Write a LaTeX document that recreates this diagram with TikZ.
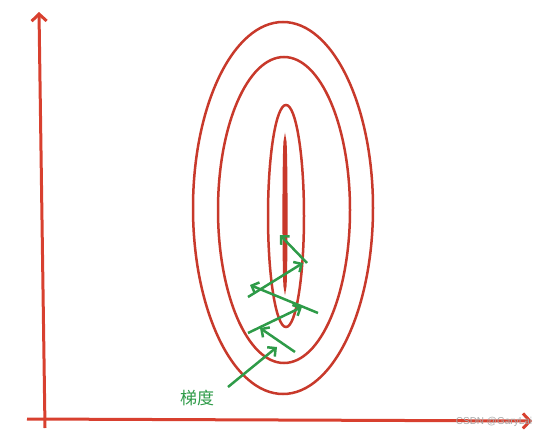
\documentclass[tikz,border=0pt]{standalone}
\usepackage{fontspec}
\newfontfamily\cjk{Noto Sans CJK SC}
\newfontfamily\wmfont{Liberation Sans}
\usepackage{tikz}
\usetikzlibrary{positioning,arrows.meta}
\definecolor{axisred}{HTML}{D8402F}
\definecolor{linered}{HTML}{C8392B}
\definecolor{gradgreen}{HTML}{2E9B48}

\begin{document}
\begin{tikzpicture}[x=1pt,y=-1pt,
    axis/.style={draw=axisred, line width=3pt, -{Straight Barb[length=7pt,width=15pt,line width=3pt]}},
    contour/.style={draw=linered, line width=2.5pt},
    grad/.style={draw=gradgreen, line width=2.5pt, -{Straight Barb[length=6pt,width=12pt,line width=2.5pt]}}]
            \useasboundingbox (0,0) rectangle (536,434);
            % axes
            \coordinate (ybottom) at (45,428);
            \coordinate (ytop) at (39,12);
            \coordinate (xleft) at (27,419);
            \coordinate (xright) at (532,421);
            \draw[axis] (ybottom) -- (ytop);
            \draw[axis] (xleft) -- (xright);
            % contour lines
            \draw[contour] (283,208) ellipse [x radius=90pt, y radius=186pt];
            \draw[contour] (284,210) ellipse [x radius=66pt, y radius=153pt];
            \draw[contour] (286,216) ellipse [x radius=18pt, y radius=111pt];
            \draw[contour, fill=linered] (285,214) ellipse [x radius=1.3pt, y radius=74pt];
            % gradient steps
            \coordinate (s1) at (228,387); \coordinate (e1) at (277,347);
            \coordinate (s2) at (295,352); \coordinate (e2) at (260,328);
            \coordinate (s3) at (248,333); \coordinate (e3) at (302,307);
            \coordinate (s4) at (318,313); \coordinate (e4) at (250,285);
            \coordinate (s5) at (248,297); \coordinate (e5) at (303,263);
            \coordinate (s6) at (307,263); \coordinate (e6) at (280,235);
            \foreach \i in {1,...,6}
                \draw[grad] (s\i) -- (e\i);
            \node[text=gradgreen, font=\cjk\fontsize{17pt}{20pt}\selectfont] (grad label) at (197,398) {梯度};
            \node[text=black!35, font=\wmfont\fontsize{10pt}{11pt}\selectfont] (mark) at (494,422) {CSDN @GaryLai};
        \end{tikzpicture}
\end{document}
